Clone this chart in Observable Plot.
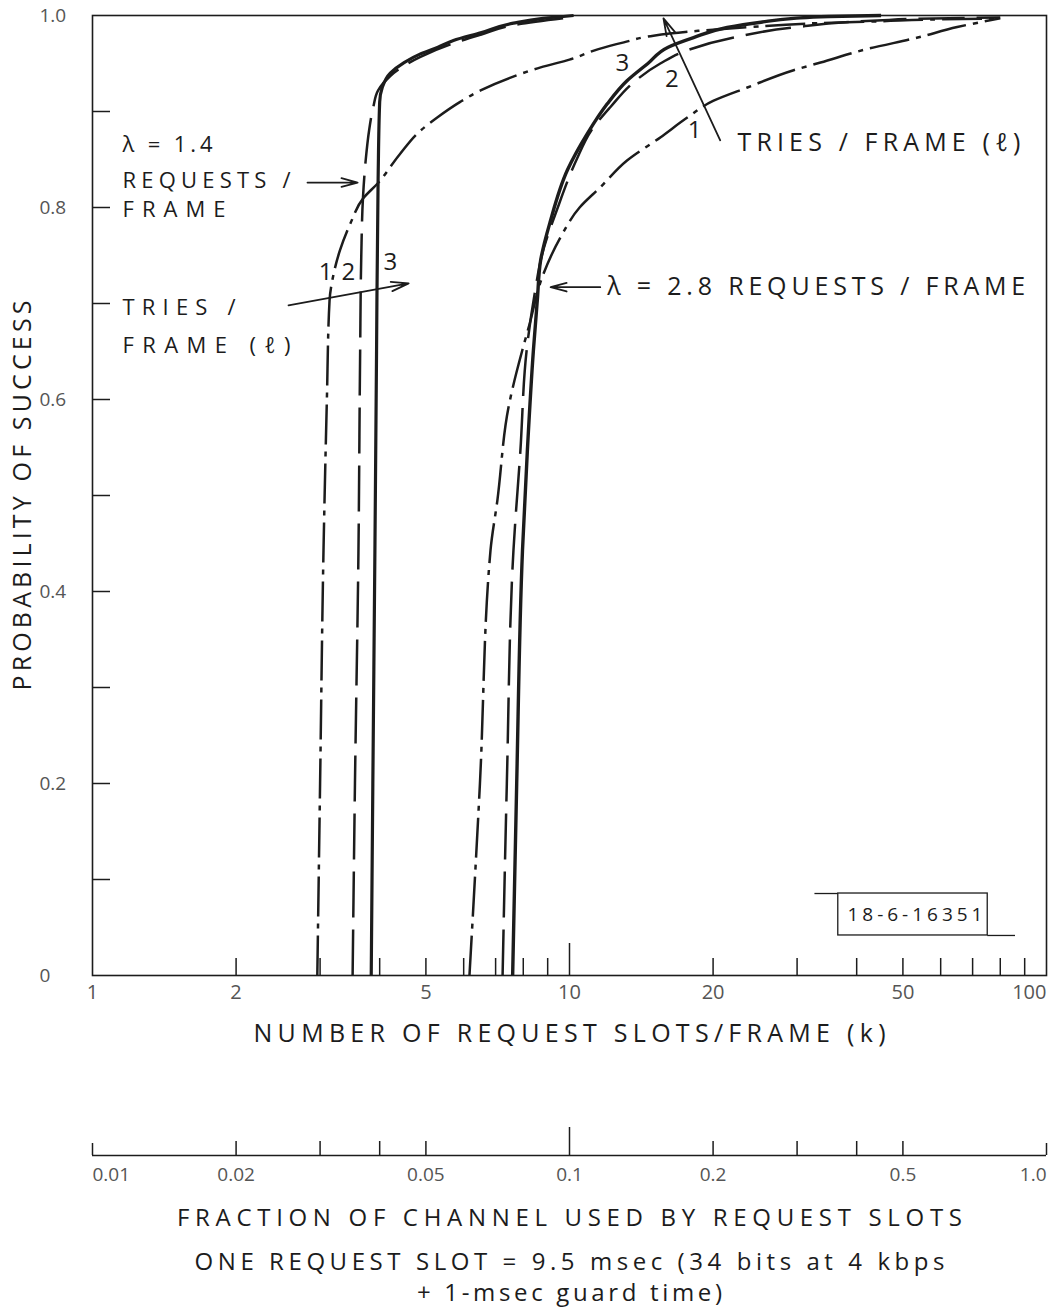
<!DOCTYPE html>
<html>
<head>
<meta charset="utf-8">
<script src="https://cdn.jsdelivr.net/npm/d3@7"></script>
<script src="https://cdn.jsdelivr.net/npm/@observablehq/plot@0.6"></script>
<style>
  body { margin: 0; background: #fff; }
  #wrap { width: 1052px; height: 1309px; background: #fff; }
  #wrap svg { display: block; }
</style>
</head>
<body>
<div id="wrap"></div>
<script>
// ---------------- data ----------------
// λ = 1.4 requests/frame
const k14_l1 = [2.96, 3.00, 3.05, 3.10, 3.14, 3.20, 3.30, 3.47, 3.70, 3.96, 4.40, 4.87, 5.29, 5.90, 6.51, 7.50, 8.70, 10.0, 11.5, 13.0, 15.0, 18.6, 24.0, 33.0, 45.0, 60.0, 80.0];
const p14_l1 = [0.000, 0.200, 0.443, 0.600, 0.703, 0.730, 0.755, 0.783, 0.810, 0.825, 0.855, 0.880, 0.894, 0.910, 0.922, 0.935, 0.946, 0.954, 0.965, 0.972, 0.979, 0.984, 0.988, 0.992, 0.994, 0.996, 0.997];
const k14_l2 = [3.51, 3.55, 3.61, 3.64, 3.66, 3.69, 3.74, 3.80, 3.88, 3.97, 4.21, 4.87, 5.71, 6.51, 7.63, 10.0];
const p14_l2 = [0.000, 0.200, 0.440, 0.650, 0.750, 0.810, 0.850, 0.880, 0.905, 0.922, 0.937, 0.957, 0.971, 0.980, 0.990, 0.998];
const k14_l3 = [3.84, 3.87, 3.91, 3.94, 3.97, 4.00, 4.05, 4.21, 4.50, 4.87, 5.30, 5.71, 6.51, 7.63, 8.80, 10.2];
const p14_l3 = [0.000, 0.200, 0.450, 0.650, 0.830, 0.910, 0.925, 0.940, 0.951, 0.960, 0.967, 0.974, 0.982, 0.992, 0.997, 1.000];
// λ = 2.8 requests/frame
const k28_l1 = [6.17, 6.49, 6.83, 7.06, 7.45, 7.96, 8.20, 8.82, 9.60, 10.5, 11.6, 13.2, 15.5, 17.7, 20.0, 23.6, 29.5, 33.6, 42.0, 53.7, 65.0, 80.0];
const p28_l1 = [0.000, 0.200, 0.443, 0.495, 0.592, 0.651, 0.674, 0.731, 0.770, 0.800, 0.821, 0.849, 0.873, 0.894, 0.911, 0.925, 0.943, 0.951, 0.965, 0.977, 0.988, 0.997];
const k28_l2 = [7.24, 7.39, 7.63, 7.89, 8.13, 8.45, 8.75, 9.45, 10.35, 11.1, 12.2, 13.6, 15.5, 17.7, 22.1, 29.5, 44.2, 58.0, 80.0];
const p28_l2 = [0.000, 0.200, 0.443, 0.547, 0.651, 0.710, 0.750, 0.800, 0.850, 0.880, 0.905, 0.930, 0.950, 0.964, 0.977, 0.9875, 0.9948, 0.997, 0.998];
const k28_l3 = [7.60, 7.75, 7.97, 8.16, 8.40, 8.56, 8.70, 9.12, 9.90, 10.9, 12.0, 13.2, 14.6, 16.1, 18.2, 21.4, 25.2, 29.5, 35.0, 45.0];
const p28_l3 = [0.000, 0.200, 0.443, 0.547, 0.651, 0.703, 0.745, 0.786, 0.839, 0.877, 0.908, 0.932, 0.950, 0.967, 0.977, 0.9875, 0.993, 0.997, 0.999, 1.000];

// axis ticks / labels
const kTicksMinor = [2, 3, 4, 5, 6, 7, 8, 9, 20, 30, 40, 50, 60, 70, 80, 90];
const kTicksMajor = [10];
const kLabels = [1, 2, 5, 10, 20, 50];
const kLabelEnd = [100];
const pTicks = [0.1, 0.2, 0.3, 0.4, 0.5, 0.6, 0.7, 0.8, 0.9];
const pLabels = [0, 0.2, 0.4, 0.6, 0.8, 1.0];
const fracTicksMinor = [0.02, 0.03, 0.04, 0.05, 0.2, 0.3, 0.4, 0.5];
const fracTicksMajor = [0.1];
const fracTicksEnds = [0.01, 1.0];
const fracLabels = [0.02, 0.05, 0.1, 0.2, 0.5];
const fracLabelStart = [0.01];
const fracLabelEnd = [1.0];

// texts
const xTitle = "NUMBER OF REQUEST SLOTS/FRAME (k)";
const yTitle = "PROBABILITY OF SUCCESS";
const captionLines = [
  "FRACTION OF CHANNEL USED BY REQUEST SLOTS",
  "ONE REQUEST SLOT = 9.5 msec (34 bits at 4 kbps",
  "+ 1-msec guard time)"
];
// left-hand stacked notes (λ = 1.4 group)
const leftNoteText = ["λ = 1.4", "REQUESTS /", "FRAME", "TRIES /", "FRAME (ℓ)"];
const leftNoteK = [1.156, 1.156, 1.156, 1.156, 1.156];
const leftNoteP = [0.865, 0.828, 0.797, 0.695, 0.656];
// right-hand notes (λ = 2.8 group)
const rightNoteText = ["TRIES / FRAME (ℓ)", "λ = 2.8 REQUESTS / FRAME"];
const rightNoteK = [22.5, 12.0];
const rightNoteP = [0.867, 0.717];
const curveLabelText = ["1", "2", "3", "3", "2", "1"];
const curveLabelK = [3.08, 3.44, 4.21, 12.9, 16.4, 18.3];
const curveLabelP = [0.732, 0.732, 0.743, 0.950, 0.934, 0.880];
const arrowK1 = [2.823, 2.576, 20.7, 11.6];
const arrowP1 = [0.826, 0.698, 0.870, 0.717];
const arrowK2 = [3.596, 4.60, 15.74, 9.13];
const arrowP2 = [0.826, 0.721, 0.997, 0.717];
const stampText = "18-6-16351";

// ---------------- build tables ----------------
const zip = (ks, ps) => ks.map((k, i) => ({k, p: ps[i]}));
const series = [
  {rows: zip(k14_l1, p14_l1), dash: "40,7,5,7", w: 2.5},
  {rows: zip(k14_l2, p14_l2), dash: "46,12", w: 2.5},
  {rows: zip(k14_l3, p14_l3), dash: null, w: 3.2},
  {rows: zip(k28_l1, p28_l1), dash: "40,7,5,7", w: 2.5},
  {rows: zip(k28_l2, p28_l2), dash: "46,12", w: 2.5},
  {rows: zip(k28_l3, p28_l3), dash: null, w: 3.4}
];
const leftNotes = leftNoteText.map((t, i) => ({t, k: leftNoteK[i], p: leftNoteP[i]}));
const rightNotes = rightNoteText.map((t, i) => ({t, k: rightNoteK[i], p: rightNoteP[i]}));
const curveLabels = curveLabelText.map((t, i) => ({t, k: curveLabelK[i], p: curveLabelP[i]}));
const arrows = arrowK1.map((k1, i) => ({k1, p1: arrowP1[i], k2: arrowK2[i], p2: arrowP2[i]}));

const FONT = '"Open Sans", "DejaVu Sans", sans-serif';
const INK = "#1c1c1c";
const LIGHT = "#555";
const blank = () => "";

// ---------------- main chart ----------------
const main = Plot.plot({
  width: 1052,
  height: 1060,
  marginTop: 15,
  marginBottom: 85,
  marginLeft: 92,
  marginRight: 6,
  style: {fontFamily: FONT, background: "#fff", color: INK, overflow: "visible"},
  x: {type: "log", domain: [1, 100], axis: null},
  y: {domain: [0, 1], axis: null},
  marks: [
    Plot.frame({stroke: INK, strokeWidth: 1.6}),
    // y ticks (inward)
    Plot.axisY(pTicks, {tickSize: 18, dx: 18, tickFormat: blank, label: null, stroke: INK, strokeWidth: 1.5}),
    Plot.axisY(pLabels, {tickSize: 0, tickPadding: 53, textAnchor: "start", label: null, fontSize: 19, fill: LIGHT,
      tickFormat: d => d === 0 ? "0" : d.toFixed(1)}),
    // x ticks (inward)
    Plot.axisX(kTicksMinor, {anchor: "bottom", tickSize: 17, dy: -17, tickFormat: blank, label: null, stroke: INK, strokeWidth: 1.5}),
    Plot.axisX(kTicksMajor, {anchor: "bottom", tickSize: 32, dy: -32, tickFormat: blank, label: null, stroke: INK, strokeWidth: 1.5}),
    Plot.axisX(kLabels, {anchor: "bottom", tickSize: 0, tickPadding: 9, label: null, fontSize: 20, fill: LIGHT, tickFormat: d => String(d)}),
    Plot.axisX(kLabelEnd, {anchor: "bottom", tickSize: 0, tickPadding: 9, label: null, fontSize: 20, fill: LIGHT, textAnchor: "end", tickFormat: d => String(d)}),
    // axis titles
    Plot.text([xTitle], {frameAnchor: "bottom", dy: 58, lineAnchor: "middle", textAnchor: "middle", fontSize: 25, fill: INK, text: d => d}),
    Plot.text([yTitle], {frameAnchor: "left", dx: -70, rotate: -90, lineAnchor: "middle", textAnchor: "middle", fontSize: 25, fill: INK, text: d => d}),
    // curves
    ...series.map(s => Plot.line(s.rows, {
      x: "k", y: "p", stroke: INK, strokeWidth: s.w, strokeDasharray: s.dash,
      curve: "monotone-y", strokeLinecap: "butt"
    })),
    // annotations
    Plot.arrow(arrows, {x1: "k1", y1: "p1", x2: "k2", y2: "p2", stroke: INK, strokeWidth: 1.8, headLength: 15, headAngle: 30}),
    Plot.text(leftNotes, {x: "k", y: "p", text: "t", textAnchor: "start", fontSize: 22, fill: INK}),
    Plot.text(rightNotes, {x: "k", y: "p", text: "t", textAnchor: "start", fontSize: 25, fill: INK}),
    Plot.text(curveLabels, {x: "k", y: "p", text: "t", fontSize: 24, fill: INK}),
    // drawing number stamp
    Plot.rect([{k1: 36.6, k2: 75.3, p1: 0.0417, p2: 0.0854}], {x1: "k1", x2: "k2", y1: "p1", y2: "p2", fill: "none", stroke: INK, strokeWidth: 1.3}),
    Plot.ruleY([{p: 0.0854, k1: 32.7, k2: 36.6}], {y: "p", x1: "k1", x2: "k2", stroke: INK, strokeWidth: 1.3}),
    Plot.ruleY([{p: 0.0417, k1: 75.3, k2: 86.1}], {y: "p", x1: "k1", x2: "k2", stroke: INK, strokeWidth: 1.3}),
    Plot.text([{t: stampText, k: 53.0, p: 0.063}], {x: "k", y: "p", text: "t", fontSize: 19, fill: INK})
  ]
});

// ---------------- secondary axis + captions ----------------
const sub = Plot.plot({
  width: 1052,
  height: 249,
  marginTop: 94,
  marginBottom: 154,
  marginLeft: 92,
  marginRight: 6,
  style: {fontFamily: FONT, background: "#fff", color: INK, overflow: "visible"},
  x: {type: "log", domain: [0.01, 1], axis: null},
  y: {domain: [0, 1], axis: null},
  marks: [
    Plot.ruleY([0], {stroke: INK, strokeWidth: 1.6}),
    Plot.axisX(fracTicksMinor, {anchor: "bottom", tickSize: 14, dy: -14, tickFormat: blank, label: null, stroke: INK, strokeWidth: 1.5}),
    Plot.axisX(fracTicksMajor, {anchor: "bottom", tickSize: 28, dy: -28, tickFormat: blank, label: null, stroke: INK, strokeWidth: 1.5}),
    Plot.axisX(fracTicksEnds, {anchor: "bottom", tickSize: 12, dy: -12, tickFormat: blank, label: null, stroke: INK, strokeWidth: 1.5}),
    Plot.axisX(fracLabels, {anchor: "bottom", tickSize: 0, tickPadding: 12, label: null, fontSize: 19, fill: LIGHT, tickFormat: d => String(d)}),
    Plot.axisX(fracLabelStart, {anchor: "bottom", tickSize: 0, tickPadding: 12, label: null, fontSize: 19, fill: LIGHT, textAnchor: "start", tickFormat: d => String(d)}),
    Plot.axisX(fracLabelEnd, {anchor: "bottom", tickSize: 0, tickPadding: 12, label: null, fontSize: 19, fill: LIGHT, textAnchor: "end", tickFormat: d => d.toFixed(1)}),
    ...captionLines.map((line, i) => Plot.text([line], {frameAnchor: "bottom", dy: [63, 107, 138][i], lineAnchor: "middle", textAnchor: "middle", fontSize: 24, fill: INK, text: d => d}))
  ]
});

// stretch lettering to the widths of the original hand lettering
const fitWidths = new Map([
  [xTitle, 632], [yTitle, 390],
  ["TRIES / FRAME (ℓ)", 283], ["λ = 2.8 REQUESTS / FRAME", 418],
  ["λ = 1.4", 90], ["REQUESTS /", 168], ["FRAME", 103], ["TRIES /", 113], ["FRAME (ℓ)", 168],
  [captionLines[0], 785], [captionLines[1], 750], [captionLines[2], 305],
  [stampText, 135]
]);
for (const svg of [main, sub]) {
  svg.querySelectorAll("text").forEach(el => {
    const w = fitWidths.get(el.textContent);
    if (w) { el.setAttribute("textLength", w); el.setAttribute("lengthAdjust", "spacing"); }
  });
}

const wrap = document.getElementById("wrap");
wrap.appendChild(main);
wrap.appendChild(sub);
</script>
</body>
</html>
